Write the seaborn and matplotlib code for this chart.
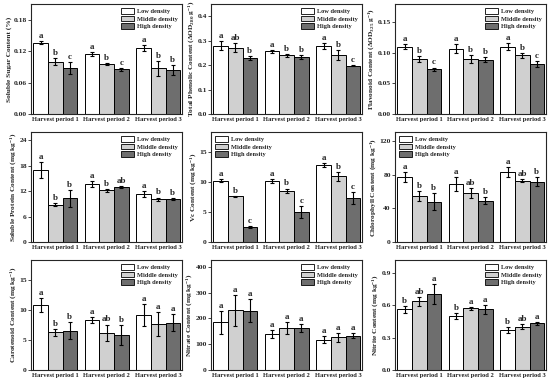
import numpy as np
import pandas as pd
import matplotlib
matplotlib.use('Agg')
import matplotlib.pyplot as plt
import matplotlib.patches as mpatches
import seaborn as sns

periods = ['Harvest period 1', 'Harvest period 2', 'Harvest period 3']
densities = ['Low density', 'Middle density', 'High density']
colors = ['#ffffff', '#d0d0d0', '#6e6e6e']

# values per period: [low, middle, high]
sugar_mean = [[0.136, 0.100, 0.088], [0.115, 0.095, 0.085], [0.126, 0.087, 0.084]]
sugar_err = [[0.003, 0.006, 0.011], [0.004, 0.002, 0.002], [0.005, 0.014, 0.009]]
sugar_sig = [['a', 'b', 'c'], ['a', 'b', 'c'], ['a', 'b', 'b']]

phenol_mean = [[0.280, 0.271, 0.228], [0.257, 0.240, 0.233], [0.278, 0.240, 0.198]]
phenol_err = [[0.020, 0.018, 0.008], [0.006, 0.005, 0.008], [0.012, 0.020, 0.003]]
phenol_sig = [['a', 'ab', 'b'], ['a', 'b', 'b'], ['a', 'b', 'c']]

flav_mean = [[0.110, 0.090, 0.073], [0.107, 0.090, 0.089], [0.110, 0.096, 0.082]]
flav_err = [[0.004, 0.005, 0.003], [0.008, 0.006, 0.004], [0.006, 0.004, 0.005]]
flav_sig = [['a', 'b', 'c'], ['a', 'b', 'b'], ['a', 'b', 'c']]

protein_mean = [[17.0, 8.8, 10.3], [13.8, 12.2, 13.0], [11.4, 10.1, 10.2]]
protein_err = [[1.8, 0.4, 2.0], [0.7, 0.3, 0.3], [0.7, 0.4, 0.2]]
protein_sig = [['a', 'b', 'b'], ['a', 'b', 'ab'], ['a', 'b', 'b']]

vc_mean = [[10.2, 7.6, 2.5], [10.1, 8.5, 5.0], [12.8, 10.9, 7.3]]
vc_err = [[0.2, 0.1, 0.1], [0.3, 0.4, 1.0], [0.3, 0.7, 1.0]]
vc_sig = [['a', 'b', 'c'], ['a', 'b', 'c'], ['a', 'b', 'c']]

chl_mean = [[77, 55, 48], [69, 58, 49], [83, 73, 72]]
chl_err = [[6, 6, 10], [8, 6, 4], [6, 2, 5]]
chl_sig = [['a', 'b', 'b'], ['a', 'ab', 'b'], ['a', 'ab', 'b']]

car_mean = [[10.9, 6.3, 6.6], [8.4, 6.2, 5.8], [9.2, 7.7, 7.9]]
car_err = [[1.2, 0.6, 1.4], [0.5, 1.4, 1.7], [1.8, 2.0, 1.4]]
car_sig = [['a', 'b', 'b'], ['a', 'ab', 'b'], ['a', 'a', 'a']]

nitrate_mean = [[185, 231, 229], [138, 162, 162], [118, 126, 133]]
nitrate_err = [[45, 60, 45], [15, 22, 15], [15, 17, 10]]
nitrate_sig = [['a', 'a', 'a'], ['a', 'a', 'a'], ['a', 'a', 'a']]

nitrite_mean = [[0.56, 0.635, 0.70], [0.50, 0.57, 0.56], [0.37, 0.40, 0.43]]
nitrite_err = [[0.03, 0.04, 0.09], [0.025, 0.015, 0.04], [0.03, 0.025, 0.015]]
nitrite_sig = [['b', 'ab', 'a'], ['b', 'a', 'a'], ['b', 'ab', 'a']]

panels = [
    ('Soluble Sugar Content (%)', sugar_mean, sugar_err, sugar_sig, 0.21, [0, 0.06, 0.12, 0.18], '%.2f', 'upper right'),
    (r'Total Phenolic Content ($\Delta$OD$_{280}$ g$^{-1}$)', phenol_mean, phenol_err, phenol_sig, 0.45, [0, 0.1, 0.2, 0.3, 0.4], '%.1f', 'upper right'),
    (r'Flavonoid Content ($\Delta$OD$_{325}$ g$^{-1}$)', flav_mean, flav_err, flav_sig, 0.18, [0, 0.05, 0.10, 0.15], '%.2f', 'upper right'),
    (r'Soluble Protein Content (mg kg$^{-1}$)', protein_mean, protein_err, protein_sig, 26, [0, 6, 12, 18, 24], '%d', 'upper right'),
    (r'Vc Content (mg kg$^{-1}$)', vc_mean, vc_err, vc_sig, 18.3, [0, 5, 10, 15], '%d', 'upper left'),
    (r'Chlorophyll Content (mg kg$^{-1}$)', chl_mean, chl_err, chl_sig, 131, [0, 40, 80, 120], '%d', 'upper left'),
    (r'Carotenoid Content (mg kg$^{-1}$)', car_mean, car_err, car_sig, 18.4, [0, 5, 10, 15], '%d', 'upper right'),
    (r'Nitrate Content (mg kg$^{-1}$)', nitrate_mean, nitrate_err, nitrate_sig, 426, [0, 100, 200, 300, 400], '%d', 'upper right'),
    (r'Nitrite Content (mg kg$^{-1}$)', nitrite_mean, nitrite_err, nitrite_sig, 1.016, [0, 0.3, 0.6, 0.9], '%.1f', 'upper right'),
]

sns.set_style('ticks')
plt.rcParams['font.family'] = ['Liberation Serif', 'DejaVu Serif']
plt.rcParams['font.weight'] = 'bold'
plt.rcParams['mathtext.fontset'] = 'custom'
plt.rcParams['mathtext.rm'] = 'Liberation Serif:bold'
plt.rcParams['mathtext.it'] = 'Liberation Serif:italic:bold'
plt.rcParams['mathtext.bf'] = 'Liberation Serif:bold'
plt.rcParams['mathtext.default'] = 'rm'

fig = plt.figure(figsize=(5.5, 3.86), dpi=100)
lefts = [31, 211, 395]
tops = [4, 132, 260]
W, H = 151, 110

for k, (ylab, mean, err, sig, ytop, yt, fmt, loc) in enumerate(panels):
    r, c = divmod(k, 3)
    ax = fig.add_axes([lefts[c] / 550, 1 - (tops[r] + H) / 386, W / 550, H / 386])
    rows = []
    for i, p in enumerate(periods):
        for j, d in enumerate(densities):
            rows.append({'period': p, 'density': d, 'value': mean[i][j]})
    df = pd.DataFrame(rows)
    sns.barplot(data=df, x='period', y='value', hue='density', order=periods,
                hue_order=densities, palette=colors, edgecolor='black',
                linewidth=0.7, width=0.85, errorbar=None, legend=False, ax=ax)
    bar_groups = list(ax.containers)
    for j, cont in enumerate(bar_groups):
        for i, bar in enumerate(cont.patches):
            x = bar.get_x() + bar.get_width() / 2
            h = bar.get_height()
            e = err[i][j]
            ax.errorbar(x, h, yerr=e, fmt='none', ecolor='black', elinewidth=0.8,
                        capsize=1.5, capthick=0.8)
            ax.text(x, h + e + ytop * 0.01, sig[i][j], ha='center', va='bottom',
                    fontsize=6.5, fontweight='bold')
    ax.set_xlim(-0.47, 2.46)
    ax.set_ylim(0, ytop)
    ax.set_yticks(yt)
    ax.set_yticklabels([fmt % v for v in yt])
    ax.set_xlabel('')
    ax.set_ylabel(ylab, fontsize=5.3, fontweight='bold', labelpad=1)
    ax.tick_params(axis='y', labelsize=5.4, length=2, width=0.6, pad=1)
    ax.tick_params(axis='x', labelsize=4.7, length=0, pad=2.5)
    for lab in ax.get_xticklabels() + ax.get_yticklabels():
        lab.set_fontweight('bold')
    for s in ax.spines.values():
        s.set_visible(True)
        s.set_linewidth(0.8)
    handles = [mpatches.Patch(facecolor=col, edgecolor='black', linewidth=0.6)
               for col in colors]
    ax.legend(handles, densities, loc=loc, frameon=False, fontsize=4.6,
              handlelength=2.0, handleheight=0.9, labelspacing=0.25,
              handletextpad=0.4, borderaxespad=0.3)

fig.savefig('out.png', dpi=100)
